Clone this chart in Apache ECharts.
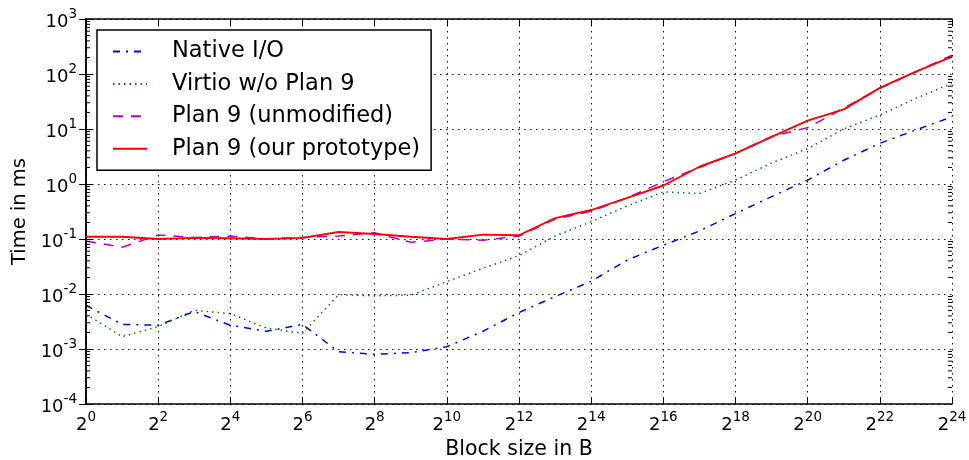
<!DOCTYPE html>
<html><head><meta charset="utf-8">
<script src="https://cdn.jsdelivr.net/npm/echarts@6/dist/echarts.min.js"></script>
<style>html,body{margin:0;padding:0;background:#fff}#c{width:969px;height:460px}</style>
</head><body><div id="c"></div>
<script>
// Block size exponents (block size = 2^exp bytes)
const blockExp = [0,1,2,3,4,5,6,7,8,9,10,11,12,13,14,15,16,17,18,19,20,21,22,23,24];
const seriesNames = ['Native I/O', 'Virtio w/o Plan 9', 'Plan 9 (unmodified)', 'Plan 9 (our prototype)'];
// Time in ms
const nativeIO   = [0.0062,0.0028,0.0027,0.0048,0.0027,0.0021,0.0028,0.00089,0.0008,0.00086,0.0011,0.0021,0.0046,0.009,0.017,0.0415,0.077,0.14,0.29,0.59,1.18,2.7,5.5,9.6,16.7];
const virtio     = [0.0043,0.00168,0.00255,0.00505,0.0044,0.0024,0.00193,0.0097,0.0093,0.0095,0.0168,0.0293,0.05,0.113,0.207,0.4,0.72,0.67,1.18,2.4,4.4,10,18,36,68];
const plan9Unmod = [0.092,0.071,0.118,0.107,0.113,0.1,0.107,0.113,0.13,0.087,0.1,0.095,0.113,0.23,0.32,0.56,1.1,2.0,3.6,7.3,10.6,24,55,110,220];
const plan9Proto = [0.11,0.11,0.1,0.105,0.103,0.1,0.105,0.134,0.123,0.11,0.1,0.12,0.117,0.24,0.336,0.56,0.94,2.06,3.6,7.2,14.2,22.8,56,110,208];
// Tick label exponents
const xTickExps = [0,2,4,6,8,10,12,14,16,18,20,22,24];
const yTickExps = [-4,-3,-2,-1,0,1,2,3];
const yMinorMult = [2,3,4,5,6,7,8,9];

const FONT = 'DejaVu Sans';
const chart = echarts.init(document.getElementById('c'), null, {renderer: 'canvas'});

const pairs = arr => blockExp.map((e, i) => [e, arr[i]]);
const supRich = {
  b: {fontSize: 18, fontFamily: FONT, color: '#000', verticalAlign: 'bottom', lineHeight: 24},
  s: {fontSize: 13.5, fontFamily: FONT, color: '#000', verticalAlign: 'top', lineHeight: 15}
};
const axisLineStyle = {show: true, lineStyle: {color: '#000', width: 1.5}};
const gridLine = {show: true, lineStyle: {color: '#000', width: 1, type: [1.5, 4.5]}};

const styles = [
  {color: '#0000ff', width: 1.5, type: [7, 6, 2, 6]},
  {color: '#008000', width: 1.5, type: [1.5, 4]},
  {color: '#bf00bf', width: 1.5, type: [10, 8]},
  {color: '#ff0000', width: 1.9, type: 'solid'}
];
const dataArr = [nativeIO, virtio, plan9Unmod, plan9Proto];

const option = {
  animation: false,
  backgroundColor: '#fff',
  textStyle: {fontFamily: FONT},
  grid: {left: 86, right: 17, top: 19, bottom: 56, containLabel: false, outerBoundsMode: 'none'},
  legend: {
    orient: 'vertical', left: 97, top: 30,
    padding: [10, 11, 10, 15],
    borderColor: '#000', borderWidth: 1.5, backgroundColor: '#fff',
    itemWidth: 34, itemHeight: 20, itemGap: 9.4,
    itemStyle: {opacity: 0},
    textStyle: {fontSize: 22.5, fontFamily: FONT, color: '#000', padding: [0, 0, 0, 20]},
    data: seriesNames
  },
  xAxis: [{
    type: 'value', min: 0, max: 24, interval: 2, position: 'bottom',
    name: 'Block size in B', nameLocation: 'middle', nameGap: 30,
    nameTextStyle: {fontSize: 20.5, fontFamily: FONT, color: '#000'},
    axisLine: axisLineStyle,
    axisTick: {show: true, inside: true, length: 7, lineStyle: {color: '#000', width: 1}},
    axisLabel: {show: true, margin: 6, formatter: v => xTickExps.indexOf(v) >= 0 ? '{b|2}{s|' + v + '}' : '', rich: supRich},
    splitLine: gridLine
  }, {
    type: 'value', min: 0, max: 24, interval: 2, position: 'top',
    axisLine: axisLineStyle,
    axisTick: {show: true, inside: true, length: 7, lineStyle: {color: '#000', width: 1}},
    axisLabel: {show: false}, splitLine: {show: false}
  }],
  yAxis: [{
    type: 'log', logBase: 10, min: 1e-4, max: 1e3, interval: 1, position: 'left',
    name: 'Time in ms', nameLocation: 'middle', nameGap: 55, nameRotate: 90,
    nameTextStyle: {fontSize: 19.5, fontFamily: FONT, color: '#000'},
    axisLine: axisLineStyle,
    axisTick: {show: true, inside: true, length: 7, lineStyle: {color: '#000', width: 1}},
    axisLabel: {show: true, margin: 9, formatter: v => {
      const e = Math.round(Math.log10(v));
      return yTickExps.indexOf(e) >= 0 ? '{b|10}{s|' + e + '}' : '';
    }, rich: supRich},
    splitLine: gridLine
  }, {
    type: 'log', logBase: 10, min: 1e-4, max: 1e3, interval: 1, position: 'right',
    axisLine: axisLineStyle,
    axisTick: {show: true, inside: true, length: 7, lineStyle: {color: '#000', width: 1}},
    axisLabel: {show: false}, splitLine: {show: false}
  }],
  series: seriesNames.map((n, i) => ({
    name: n, type: 'line', xAxisIndex: 0, yAxisIndex: 0,
    data: pairs(dataArr[i]), symbol: 'none', showSymbol: false,
    lineStyle: styles[i], itemStyle: {color: styles[i].color},
    z: 2 + i
  }))
};
chart.setOption(option);

// minor ticks on log y axis (2..9 x each decade), both sides, inward
const x0 = chart.convertToPixel({xAxisIndex: 0}, 0);
const x1 = chart.convertToPixel({xAxisIndex: 0}, 24);
const minor = [];
yTickExps.slice(0, -1).forEach(e => {
  yMinorMult.forEach(m => {
    const y = chart.convertToPixel({yAxisIndex: 0}, m * Math.pow(10, e));
    minor.push({type: 'line', shape: {x1: x0, y1: y, x2: x0 + 4, y2: y}, style: {stroke: '#000', lineWidth: 1}, z: 10});
    minor.push({type: 'line', shape: {x1: x1, y1: y, x2: x1 - 4, y2: y}, style: {stroke: '#000', lineWidth: 1}, z: 10});
  });
});
chart.setOption({graphic: minor});
</script></body></html>
